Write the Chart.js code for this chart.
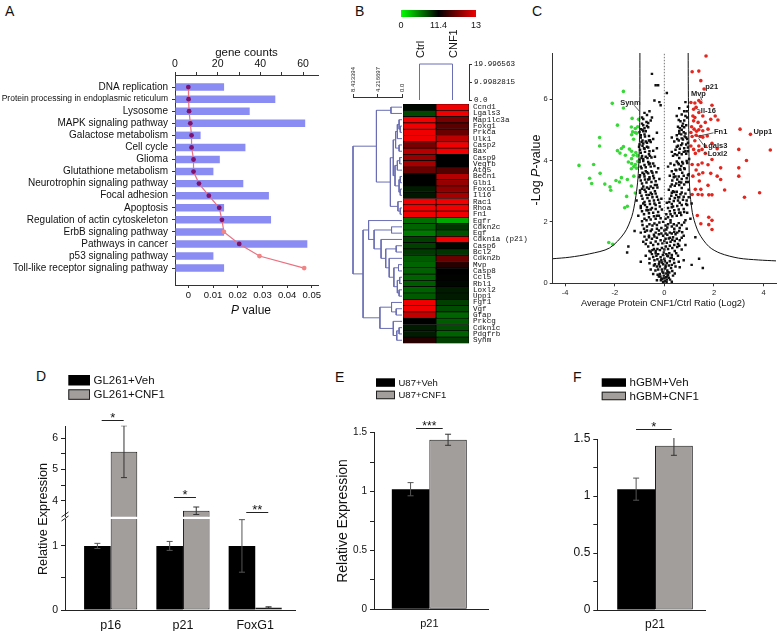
<!DOCTYPE html>
<html><head><meta charset="utf-8">
<script src="https://cdn.jsdelivr.net/npm/chart.js@4.4.1/dist/chart.umd.min.js"></script>
<style>
html,body{margin:0;padding:0;background:#fff;}
#root{position:relative;width:780px;height:631px;overflow:hidden;background:#fff;font-family:"Liberation Sans",Arial,sans-serif;}
.pl{position:absolute;font-size:14px;line-height:14px;color:#111;}
</style></head><body><div id="root">
<div class="pl" style="left:5px;top:4px">A</div>
<div class="pl" style="left:355px;top:4px">B</div>
<div class="pl" style="left:532px;top:4px">C</div>
<div class="pl" style="left:36px;top:369px">D</div>
<div class="pl" style="left:335px;top:370px">E</div>
<div class="pl" style="left:573px;top:370px">F</div>
</div>
<script>
// ---------------- DATA ----------------
// Panel A
const pathways = ['DNA replication','Protein processing in endoplasmic reticulum','Lysosome','MAPK signaling pathway','Galactose metabolism','Cell cycle','Glioma','Glutathione metabolism','Neurotrophin signaling pathway','Focal adhesion','Apoptosis','Regulation of actin cytoskeleton','ErbB signaling pathway','Pathways in cancer','p53 signaling pathway','Toll-like receptor signaling pathway'];
const geneCounts = [23,47,35,61,12,33,21,18,32,44,23,45,23,62,18,23];
const pValues = [0.0000,0.0001,0.0003,0.0008,0.0013,0.0013,0.0021,0.0021,0.0043,0.0083,0.0125,0.0136,0.0144,0.0206,0.0288,0.0469];
const countTicks = [0,10,20,30,40,50,60];
const countLabels = ['0','','20','','40','','60'];
const pTicks = [0,0.01,0.02,0.03,0.04,0.05];

// Panel B
const hmGenes = ['Ccnd1','Lgals3','Map1lc3a','Foxg1','Prkca','Ulk1','Casp2','Bax','Casp9','Vegfb','Atg5','Becn1','Glb1','Foxo1','Il16','Rac1','Rhoa','Fn1','Egfr','Cdkn2c','Egf','Cdkn1a (p21)','Casp6','Bcl2','Cdkn2b','Mvp','Casp8','Ccl5','Rbl1','Loxl2','Upp1','Fgf1','Vgf','Gfap','Prkcg','Cdkn1c','Pdgfrb','Synm'];
const ctrlExpr = [11.3,9.1,13,13,13,13,12.2,12.6,12.4,12.5,12.1,11.4,11.4,10.7,10.8,13,13,13,7.4,7.8,6.9,9.4,9.4,9.6,8.3,7.8,8.0,8.0,8.3,8.0,8.3,13,13,12.7,11.4,10.7,10.7,11.65];
const cnf1Expr = [13,13,12.2,12.0,12.1,12.65,13,13,11.4,11.4,11.95,12.6,12.4,12.35,12.5,13,13,13,4.7,9.8,8.7,13,11.3,9.8,12.1,11.65,11.4,11.35,11.3,10.7,10.7,9.4,8.9,7.8,8.3,8.9,8.0,9.4];
const sampleNames = ['Ctrl','CNF1'];
const colorScaleVals = [0, 11.4, 13];
const colJoinHeight = 19.996563;
const colScaleTicks = [0, 9.9982815, 19.996563];
const colScaleLabels = ['0.0','9.9982815','19.996563'];
const rowScaleTicks = [0, 4.216697, 8.433394];
const rowScaleLabels = ['0.0','4.216697','8.433394'];
// row dendrogram: [height, left, right]; leaves = row index
const rowTree = [8.433394,
  [4.4, [1.9,0,1], [2.0, [1.5, [1.1,[0.8,[0.5,2,[0.3,3,4]],5],[0.5,6,7]], [1.2,[0.8,[0.4,8,9],10],[0.5,[0.3,11,12],[0.3,13,14]]]], [0.7,15,[0.3,16,17]]]],
  [6.7, [5.75,18,[4.8,[1.8,19,20],[3.6,21,[2.8,[1.0,22,23],[2.2,24,[1.4,[0.6,25,26],[0.8,[0.4,27,28],[0.5,29,30]]]]]]]],
        [3.8,[1.8,31,[1.0,32,33]],[1.5,34,[0.9,[0.5,35,36],37]]]]
];

// Panel C (volcano)
const volcanoBlack = [
[-0.05,0.05],[0.03,0.08],[0.1,0.12],[-0.12,0.15],[0.06,0.2],[-0.02,0.25],[0.15,0.28],[-0.18,0.3],[0.2,0.35],[-0.08,0.38],[0.12,0.42],[-0.25,0.45],[0.02,0.48],[0.27,0.5],[-0.14,0.1],[0.18,0.18],[-0.22,0.22],[0.08,0.32],[-0.1,0.45],[-0.45,0.3],[0.35,0.25],[-0.3,0.1],[0.3,0.05],
[-0.3,0.55],[0.3,0.6],[-0.05,0.62],[0.1,0.66],[-0.2,0.7],[0.22,0.72],[-0.4,0.75],[0.38,0.78],[0.0,0.8],[-0.15,0.85],[0.15,0.88],[-0.32,0.9],[0.3,0.92],[-0.5,0.95],[0.48,0.98],[0.05,0.58],[-0.12,0.75],[0.25,0.82],[-0.25,0.95],[0.08,0.95],[-0.38,0.62],[0.45,0.55],[-0.6,0.65],[0.58,0.7],
[-0.75,0.9],[0.78,0.75],[-1.45,1.2],[-1.5,1.0],[1.55,0.5],[1.4,0.8],[-0.95,0.7],[1.1,0.6],
[-0.55,1.02],[-0.35,1.05],[-0.18,1.08],[0.0,1.1],[0.15,1.12],[0.32,1.15],[0.52,1.18],[-0.65,1.2],[-0.45,1.25],[-0.25,1.28],[-0.08,1.3],[0.1,1.32],[0.25,1.35],[0.42,1.38],[0.62,1.4],[-0.72,1.42],[-0.5,1.45],[-0.3,1.48],[0.18,1.46],[0.35,1.5],[0.55,1.28],[-0.6,1.05],[0.7,1.1],[-0.85,1.35],[0.85,1.25],[-0.02,1.0],[-0.42,1.12],[0.42,1.05],[-0.15,1.4],[0.05,1.45],
[-0.8,1.52],[-0.62,1.55],[-0.42,1.58],[-0.22,1.6],[0.05,1.62],[0.22,1.65],[0.4,1.68],[0.6,1.7],[0.78,1.55],[-0.7,1.72],[-0.5,1.75],[-0.3,1.78],[-0.12,1.8],[0.12,1.82],[0.3,1.85],[0.5,1.88],[0.7,1.9],[-0.88,1.9],[-0.6,1.92],[-0.4,1.95],[-0.2,1.98],[0.25,1.98],[0.45,1.6],[-0.95,1.65],[0.9,1.78],[-1.2,1.7],[1.25,1.5],[-0.35,1.65],[0.0,1.72],[0.15,1.92],
[-0.9,2.02],[-0.72,2.05],[-0.55,2.08],[-0.35,2.1],[-0.15,2.12],[0.15,2.15],[0.32,2.18],[0.5,2.2],[0.68,2.22],[0.85,2.05],[-0.82,2.25],[-0.62,2.28],[-0.45,2.3],[-0.25,2.32],[0.22,2.35],[0.4,2.38],[0.58,2.4],[0.78,2.42],[-0.95,2.45],[-0.7,2.48],[-0.5,2.45],[0.3,2.48],[0.92,2.3],[-0.1,2.4],[0.08,2.25],[-1.05,2.2],[1.05,2.1],[-0.05,2.0],[-0.3,2.2],[0.25,2.05],[-0.65,2.38],[0.65,2.3],
[-0.95,2.52],[-0.78,2.55],[-0.58,2.58],[-0.4,2.6],[-0.2,2.62],[0.2,2.65],[0.38,2.68],[0.55,2.7],[0.75,2.72],[0.92,2.55],[-0.88,2.75],[-0.68,2.78],[-0.48,2.8],[-0.3,2.82],[0.28,2.85],[0.48,2.88],[0.65,2.9],[0.85,2.92],[-0.98,2.95],[-0.75,2.98],[-0.55,2.95],[0.4,2.97],[0.98,2.8],[-1.12,2.7],[1.1,2.6],[-0.12,2.75],[-0.35,2.55],[0.3,2.58],[-0.85,2.6],[0.62,2.62],[-0.62,2.88],[0.55,2.8],
[-0.98,3.02],[-0.8,3.05],[-0.62,3.08],[-0.45,3.1],[-0.28,3.12],[0.25,3.15],[0.42,3.18],[0.6,3.2],[0.8,3.22],[0.98,3.05],[-0.9,3.25],[-0.72,3.28],[-0.52,3.3],[-0.35,3.32],[0.32,3.35],[0.52,3.38],[0.7,3.4],[0.9,3.42],[-1.0,3.45],[-0.8,3.48],[-0.6,3.45],[0.45,3.48],[0.95,3.3],[-0.2,3.4],[0.18,3.05],[-0.38,3.0],[0.35,3.0],[-0.85,3.15],[0.7,3.1],[-0.65,3.38],[0.6,3.3],
[-0.98,3.52],[-0.82,3.55],[-0.65,3.58],[-0.48,3.6],[-0.32,3.62],[0.3,3.65],[0.48,3.68],[0.65,3.7],[0.82,3.72],[0.98,3.55],[-0.92,3.75],[-0.75,3.78],[-0.55,3.8],[-0.4,3.82],[0.4,3.85],[0.58,3.88],[0.75,3.9],[0.92,3.92],[-1.0,3.95],[-0.85,3.98],[-0.65,3.95],[0.5,3.97],[0.25,3.9],[-0.25,3.75],[-0.45,3.5],[0.38,3.55],[-0.75,3.65],[0.72,3.6],[-0.58,3.9],[0.68,3.82],
[-1.0,4.02],[-0.85,4.05],[-0.68,4.08],[-0.52,4.1],[-0.38,4.12],[0.35,4.15],[0.52,4.18],[0.7,4.2],[0.88,4.22],[1.0,4.05],[-0.95,4.25],[-0.78,4.28],[-0.6,4.3],[-0.45,4.32],[0.45,4.35],[0.62,4.38],[0.8,4.4],[0.95,4.42],[-1.02,4.45],[-0.88,4.48],[-0.7,4.45],[0.55,4.48],[0.3,4.28],[-0.3,4.4],[-0.9,4.15],[0.6,4.08],[-0.62,4.2],[0.85,4.3],[-0.8,4.38],
[-1.0,4.52],[-0.85,4.55],[-0.7,4.58],[-0.55,4.6],[0.4,4.62],[0.58,4.65],[0.75,4.68],[0.92,4.7],[-0.95,4.75],[-0.78,4.78],[-0.62,4.8],[0.5,4.82],[0.68,4.85],[0.85,4.88],[-1.0,4.92],[-0.85,4.95],[0.6,4.95],[0.95,4.58],[-0.45,4.7],[0.3,4.75],[-0.3,4.9],[0.72,4.55],[-0.62,4.65],[0.82,4.78],[-0.88,4.65],[0.7,5.0],[-0.75,4.95],
[-0.95,5.02],[-0.8,5.05],[-0.65,5.08],[0.55,5.1],[0.72,5.12],[0.88,5.15],[-0.9,5.2],[-0.72,5.25],[0.65,5.28],[0.8,5.3],[-0.85,5.35],[-0.55,5.3],[0.92,5.4],[0.5,5.45],[-0.7,5.48],
[-0.5,6.82],[-0.35,6.45],[-0.25,6.45],[0.1,6.2],[-0.4,5.95],[-0.2,5.9],[-0.15,5.8],[0.85,5.9],[0.95,5.75],[-0.6,5.6],[0.8,5.6],[0.6,5.7],
[-0.08,0.15],[0.0,0.18],[0.09,0.04],[-0.16,0.22],[0.14,0.36],[-0.04,0.34],[0.23,0.12],[-0.27,0.28],[0.32,0.4],[-0.36,0.42],[0.05,0.52],[-0.18,0.55],[0.18,0.58],[-0.42,0.58],[0.4,0.66],[-0.1,0.68],[0.02,0.72],[-0.28,0.78],[0.3,0.84],[-0.45,0.86],[0.12,0.9],[-0.06,0.92],[0.55,0.9],[-0.6,0.8],[0.2,0.98],[-0.35,0.98],[0.62,0.52],[-0.55,0.45],[0.42,0.32],[-0.02,0.02],[0.12,0.22],[-0.22,0.62],
[-0.48,1.08],[-0.28,1.12],[-0.1,1.15],[0.06,1.2],[0.22,1.22],[0.4,1.25],[0.6,1.22],[-0.75,1.28],[-0.55,1.32],[-0.35,1.36],[0.0,1.38],[0.32,1.42],[0.5,1.45],[0.7,1.48],[-0.62,1.5],[-0.4,1.52],[-0.05,1.55],[0.12,1.58],[0.3,1.62],[0.52,1.65],[0.72,1.66],[-0.78,1.68],[-0.55,1.7],[-0.22,1.72],[0.08,1.75],[0.4,1.78],[0.62,1.8],[-0.7,1.85],[-0.48,1.88],[-0.3,1.9],[0.05,1.88],[0.38,1.92],[0.58,1.96],[0.8,1.98],[-0.82,1.78],[-0.12,1.62],[0.22,1.48],
[-0.8,2.1],[-0.62,2.15],[-0.42,2.18],[-0.22,2.2],[0.05,2.1],[0.25,2.25],[0.42,2.28],[0.6,2.3],[0.8,2.32],[-0.9,2.35],[-0.72,2.38],[-0.55,2.4],[-0.35,2.42],[0.15,2.45],[0.35,2.5],[0.52,2.52],[0.7,2.55],[0.88,2.58],[-0.8,2.65],[-0.6,2.68],[-0.42,2.7],[-0.25,2.72],[0.22,2.75],[0.42,2.78],[0.6,2.8],[0.78,2.82],[-0.92,2.85],[-0.72,2.88],[-0.5,2.9],[-0.35,2.92],[0.3,2.95],[0.5,2.98],[0.7,2.96],[0.9,2.7],[-0.18,2.5],[0.1,2.62],
[-0.9,3.08],[-0.7,3.12],[-0.55,3.15],[-0.38,3.2],[0.3,3.22],[0.48,3.25],[0.68,3.28],[0.88,3.3],[-0.95,3.35],[-0.78,3.38],[-0.6,3.4],[-0.42,3.42],[0.38,3.45],[0.58,3.48],[0.78,3.5],[0.95,3.52],[-0.88,3.6],[-0.7,3.62],[-0.52,3.65],[0.45,3.7],[0.62,3.72],[0.8,3.75],[-0.95,3.8],[-0.8,3.85],[-0.62,3.88],[-0.45,3.9],[0.55,3.92],[0.72,3.95],[0.9,3.98],[-0.3,3.2],[0.22,3.5],[0.15,3.8],
[-0.92,4.08],[-0.75,4.12],[-0.58,4.15],[0.42,4.2],[0.6,4.25],[0.78,4.28],[0.95,4.3],[-0.98,4.35],[-0.82,4.4],[-0.65,4.42],[0.5,4.45],[0.68,4.5],[0.88,4.52],[-0.92,4.6],[-0.75,4.62],[-0.58,4.66],[0.52,4.7],[0.7,4.72],[0.88,4.75],[-0.95,4.82],[-0.8,4.85],[0.6,4.88],[0.78,4.92],[-0.88,5.0],[-0.7,5.12],[0.62,5.05],[0.8,5.08],[-0.85,5.15],[0.75,5.2],[-0.65,5.22],[0.58,5.32],[-0.9,5.4],[0.85,5.45],[-0.8,5.55],[0.7,5.5],[0.9,5.6],[-0.5,5.4]
];
const volcanoDown = [
[-1.65,6.25],[-2.1,5.86],[-1.65,5.71],[-1.3,5.37],[-1.04,5.34],[-1.89,5.15],[-1.33,5.09],[-1.17,5.04],[-1.07,5.1],[-2.61,4.75],[-1.28,4.93],[-1.17,4.91],[-1.12,4.89],[-1.32,4.84],[-1.24,4.69],[-2.61,4.47],[-1.65,4.45],[-1.73,4.39],[-1.89,4.32],[-1.41,4.37],[-1.32,4.3],[-1.15,4.26],[-1.79,4.24],[-1.57,4.17],[-1.25,4.17],[-1.09,4.17],[-1.32,4.06],[-1.07,3.97],[-1.32,3.9],[-1.17,3.87],[-1.23,3.8],[-1.12,3.75],[-1.33,3.73],[-2.85,3.87],[-3.44,3.84],[-2.59,3.58],[-1.73,3.44],[-1.95,3.35],[-1.49,3.38],[-1.23,3.49],[-3.01,3.42],[-2.93,3.25],[-2.4,3.23],[-2.19,3.14],[-2.16,3.03],[-1.81,3.3],[-1.33,3.17],[-1.17,2.94],[-1.52,2.83],[-1.49,2.51],[-1.6,2.46],[-2.24,1.33],[-2.08,1.27],[-1.09,4.15],[-1.45,3.95]
];
const volcanoUp = [
[1.68,7.4],[1.12,6.89],[1.39,6.91],[1.47,6.6],[1.6,6.33],[1.39,5.95],[1.07,5.89],[1.23,5.87],[1.47,5.89],[1.28,5.73],[1.92,5.8],[1.18,5.67],[1.39,5.56],[1.23,5.4],[1.55,5.45],[2.05,5.45],[2.16,5.32],[1.87,5.34],[1.18,5.29],[1.36,5.24],[1.65,5.24],[1.47,5.11],[1.2,5.02],[1.39,5.0],[1.55,4.97],[1.76,5.02],[1.07,4.91],[1.12,4.78],[1.28,4.82],[1.44,4.78],[1.55,4.76],[1.23,4.64],[1.07,4.47],[1.39,4.47],[1.65,4.47],[1.92,4.56],[2.13,4.38],[1.18,4.36],[1.39,4.32],[1.52,4.36],[1.65,4.23],[1.25,4.23],[3.05,5.02],[3.47,4.85],[4.27,4.34],[3.0,4.36],[3.31,4.0],[1.92,4.03],[1.52,3.92],[1.12,3.87],[1.36,3.86],[1.76,3.86],[2.27,3.76],[1.28,3.69],[1.55,3.6],[3.0,3.76],[3.0,3.49],[1.39,3.55],[1.15,3.49],[1.87,3.58],[2.13,3.49],[1.41,3.33],[1.76,3.19],[2.27,3.38],[1.25,3.06],[1.47,3.06],[2.43,3.04],[3.84,2.95],[1.12,2.89],[1.36,2.89],[1.52,2.88],[1.79,2.88],[1.92,2.88],[3.23,2.8],[1.33,2.21],[1.79,2.15],[1.47,1.94],[1.92,2.05],[1.79,1.91],[1.15,5.45],[1.73,4.8],[1.92,1.75],[1.1,5.1],[1.3,4.95]
];
const threshLeftX = [-0.985,-0.985,-0.99,-1.0,-1.03,-1.08,-1.17,-1.31,-1.61,-2.21,-3.01,-3.81,-4.5];
const threshLeftY = [7.5,6.5,5.67,4.8,3.9,3.27,2.72,2.18,1.64,1.15,0.96,0.85,0.8];
const threshRightX = [0.96,0.965,0.975,0.99,1.01,1.06,1.16,1.39,1.79,2.25,2.99,3.79,4.5];
const threshRightY = [7.5,6.5,5.6,4.4,3.27,2.73,2.18,1.64,1.2,0.98,0.82,0.76,0.73];
const volcanoXTicks = [-4,-2,0,2,4];
const volcanoYTicks = [0,2,4,6];
const tagNames = ['Synm','Mvp','p21','Il-16','Fn1','Upp1','Lgals3','Loxl2'];
const tagX = [-1.78,1.07,1.65,1.47,2.0,3.59,1.58,1.75];
const tagY = [5.89,6.16,6.38,5.62,4.93,4.93,4.47,4.2];
const leadX1 = [-1.22,1.45,null,1.3,1.98,null,1.58,1.6];
const leadY1 = [5.8,6.08,null,5.68,4.9,null,4.5,4.27];
const leadX2 = [-1.0,1.52,null,1.45,1.3,null,1.38,1.73];
const leadY2 = [5.6,5.95,null,5.63,4.78,null,4.72,4.21];

// Panel D
const dGenes = ['p16','p21','FoxG1'];
const dSeries = ['GL261+Veh','GL261+CNF1'];
const dVeh = [1.0,1.0,1.0];
const dVehErr = [0.04,0.07,0.41];
const dCnf = [5.57,3.68,0.04];
const dCnfErr = [0.83,0.12,0.01];
const dSig = ['*','*','**'];
const dSigLevel = [6.59,4.13,3.63];
const dTicksUpper = [4,4.5,5,5.5,6];
const dLabelsUpper = ['4','','5','','6'];
const dTicksLower = [0,0.5,1];
const dLabelsLower = ['0','','1'];
// Panel E
const eGenes = ['p21'];
const eSeries = ['U87+Veh','U87+CNF1'];
const eVeh = [1.02]; const eVehErr = [0.056];
const eCnf = [1.44]; const eCnfErr = [0.047];
const eSig = ['***']; const eSigLevel = [1.538];
// Panel F
const fGenes = ['p21'];
const fSeries = ['hGBM+Veh','hGBM+CNF1'];
const fVeh = [1.06]; const fVehErr = [0.097];
const fCnf = [1.44]; const fCnfErr = [0.083];
const fSig = ['*']; const fSigLevel = [1.588];
const efTicks = [0,0.25,0.5,0.75,1,1.25,1.5];
const efLabels = ['0','','0.5','','1','','1.5'];

// ---------------- HELPERS ----------------
const FONT = '"Liberation Sans", Arial, sans-serif';
const MONO = '"Liberation Mono", "DejaVu Sans Mono", monospace';
Chart.defaults.font.family = FONT;
Chart.defaults.color = '#111';
const root = document.getElementById('root');
function mk(l,t,w,h){ const c=document.createElement('canvas'); c.width=w; c.height=h; c.style.cssText=`position:absolute;left:${l}px;top:${t}px;width:${w}px;height:${h}px;`; root.appendChild(c); return c; }
const setW = w => s => { s.width = w; };
const setH = h => s => { s.height = h; };
const setTicks = arr => s => { s.ticks = arr.map(v => ({value:v})); };
function base(pad){ return {responsive:false, maintainAspectRatio:false, animation:false, devicePixelRatio:1, events:[], layout:{padding:pad}, plugins:{legend:{display:false}, tooltip:{enabled:false}}}; }
function drawParts(c, parts, cx, cy, size, rot, weight){
  c.save(); c.translate(cx,cy); c.rotate(rot||0); c.fillStyle='#111'; c.textBaseline='middle'; c.textAlign='left';
  const fonts = parts.map(p => `${p.i?'italic ':''}${weight||''} ${size}px ${FONT}`);
  let total=0; parts.forEach((p,k)=>{ c.font=fonts[k]; total+=c.measureText(p.t).width; });
  let x=-total/2; parts.forEach((p,k)=>{ c.font=fonts[k]; c.fillText(p.t,x,0); x+=c.measureText(p.t).width; });
  c.restore();
}
let pid=0;
function textPlugin(items){ return {id:'txt'+(pid++), afterDraw(ch){ items.forEach(it => drawParts(ch.ctx, it.parts, it.x, it.y, it.size, it.rot)); }}; }
function exprColor(v){
  const lo=colorScaleVals[0], mid=colorScaleVals[1], hi=colorScaleVals[2];
  if (v <= mid){ const t=Math.max(0,Math.min(1,(mid-v)/(mid-lo))); return `rgb(0,${Math.round(255*Math.pow(t,0.8))},0)`; }
  const t=Math.min(1,(v-mid)/(hi-mid)); return `rgb(${Math.round(240*t)},0,0)`;
}
const axisGrid = {drawOnChartArea:false, tickLength:3, color:'#333', tickColor:'#333'};
const axisBorder = {display:true, color:'#333', width:1};

// ---------------- PANEL A ----------------
const pDotColors = pValues.map((_,i)=> [12,14,15].includes(i) ? '#f08585' : '#7d1370');
new Chart(mk(0,0,330,330), {
  type:'bar',
  data:{datasets:[
    {type:'line', data:pValues.map((p,i)=>({x:p,y:i})), xAxisID:'xBot', yAxisID:'y', borderColor:'#ec7080', borderWidth:1.2, pointRadius:2.4, pointBackgroundColor:pDotColors, pointBorderWidth:0, tension:0, order:0},
    {type:'bar', data:geneCounts.map((c,i)=>({x:c,y:i})), xAxisID:'xTop', yAxisID:'y', backgroundColor:'#8b8cf3', barPercentage:0.62, categoryPercentage:1, order:1}
  ]},
  options:Object.assign(base({left:0,top:0,right:12,bottom:0}), {indexAxis:'y', scales:{
    y:{type:'linear', axis:'y', position:'left', reverse:true, offset:false, min:-1, max:16.4, afterFit:setW(175), afterBuildTicks:setTicks(pathways.map((_,i)=>i)),
       ticks:{callback:v=>pathways[v], font:ctx=>({size:(pathways[ctx.index]||'').length>40?8.5:10}), padding:4, autoSkip:false, color:'#111'},
       grid:Object.assign({offset:false}, axisGrid), border:axisBorder},
    xTop:{type:'linear', axis:'x', position:'top', min:0, max:67, afterFit:setH(75), afterBuildTicks:setTicks(countTicks),
       ticks:{callback:(v,i)=>countLabels[i], font:{size:10.5}, padding:2, color:'#111', autoSkip:false, maxRotation:0}, grid:axisGrid, border:axisBorder,
       title:{display:true, text:'gene counts', font:{size:11.5}, color:'#111', padding:{top:45.5,bottom:0}}},
    xBot:{type:'linear', axis:'x', position:'bottom', min:-0.0054, max:0.0525, afterFit:setH(45), afterBuildTicks:setTicks(pTicks),
       ticks:{callback:v=>v===0?'0':v.toFixed(2), font:{size:9.5}, padding:2, color:'#111'}, grid:axisGrid, border:axisBorder}
  }}),
  plugins:[textPlugin([{parts:[{t:'P',i:1},{t:' value'}], x:251, y:311, size:12}])]
});

// ---------------- PANEL B ----------------
// heatmap
new Chart(mk(330,0,200,360), {
  type:'bar',
  data:{labels:hmGenes, datasets:[
    {label:sampleNames[0], data:hmGenes.map(()=>1), backgroundColor:ctrlExpr.map(exprColor)},
    {label:sampleNames[1], data:hmGenes.map(()=>1), backgroundColor:cnf1Expr.map(exprColor)}
  ]},
  options:Object.assign(base({left:73,top:104,right:0,bottom:16.6}), {indexAxis:'y',
    datasets:{bar:{barPercentage:1, categoryPercentage:1, borderColor:'#000', borderWidth:0.7, borderSkipped:false}},
    scales:{
      x:{type:'linear', stacked:true, display:false, min:0, max:2},
      y:{type:'category', stacked:true, position:'right', afterFit:setW(61), ticks:{font:{family:MONO,size:7.6}, padding:4, autoSkip:false, color:'#111'}, grid:{display:false, drawTicks:false}, border:{display:false}}
    }})
});
// row dendrogram
function dendroSegs(node, out){
  if (typeof node === 'number') return {h:0, y:node};
  const A = dendroSegs(node[1], out), B = dendroSegs(node[2], out), h = node[0];
  out.push({x:A.h,y:A.y},{x:h,y:A.y},{x:h,y:B.y},{x:B.h,y:B.y},{x:NaN,y:NaN});
  return {h, y:(A.y+B.y)/2};
}
const rowSegs = []; dendroSegs(rowTree, rowSegs);
new Chart(mk(330,0,200,360), {
  type:'line',
  data:{datasets:[{data:rowSegs, borderColor:'#6a6eb4', borderWidth:1, pointRadius:0, tension:0, spanGaps:false, clip:4}]},
  options:Object.assign(base({left:23,top:0,right:128,bottom:16.6}), {scales:{
    x:{type:'linear', position:'top', reverse:true, min:0, max:rowScaleTicks[2], afterFit:setH(97), afterBuildTicks:setTicks(rowScaleTicks),
       ticks:{callback:(v,i)=>rowScaleLabels[i], font:{size:6}, minRotation:90, maxRotation:90, padding:2, labelOffset:8, autoSkip:false, color:'#222'},
       grid:axisGrid, border:axisBorder},
    y:{type:'linear', display:false, reverse:true, min:-1.611, max:37.5}
  }})
});
// column dendrogram
new Chart(mk(330,0,200,360), {
  type:'line',
  data:{datasets:[{data:[{x:0,y:0},{x:0,y:colJoinHeight},{x:1,y:colJoinHeight},{x:1,y:0}], borderColor:'#6a6eb4', borderWidth:1, pointRadius:0, tension:0, clip:4}]},
  options:Object.assign(base({left:73,top:0,right:0,bottom:260}), {scales:{
    x:{type:'linear', position:'top', min:-0.5, max:1.5, afterFit:setH(64), afterBuildTicks:setTicks(sampleNames.map((_,i)=>i)),
       ticks:{callback:(v,i)=>sampleNames[i], minRotation:90, maxRotation:90, font:{size:11}, padding:6, labelOffset:15, autoSkip:false, color:'#111'},
       grid:{display:false, drawTicks:false}, border:{display:false}},
    y:{type:'linear', position:'right', min:0, max:colJoinHeight, afterFit:setW(61), afterBuildTicks:setTicks(colScaleTicks),
       ticks:{callback:(v,i)=>colScaleLabels[i], font:{family:MONO,size:7.6}, padding:2, color:'#111'}, grid:axisGrid, border:axisBorder}
  }})
});
// colour bar
new Chart(mk(330,0,200,40), {
  type:'bar',
  data:{labels:['scale'], datasets:[{data:[[0,2]], barPercentage:1, categoryPercentage:1,
    backgroundColor:ctx=>{ const a=ctx.chart.chartArea; if(!a) return '#000'; const g=ctx.chart.ctx.createLinearGradient(a.left,0,a.right,0);
      g.addColorStop(0,exprColor(colorScaleVals[0])); g.addColorStop(0.5,exprColor(colorScaleVals[1])); g.addColorStop(1,exprColor(colorScaleVals[2])); return g; }}]},
  options:Object.assign(base({left:71,top:10,right:54,bottom:0}), {indexAxis:'y', scales:{
    y:{display:false},
    x:{type:'linear', min:0, max:2, afterFit:setH(23), afterBuildTicks:setTicks(colorScaleVals.map((_,i)=>i)),
       ticks:{callback:(v,i)=>String(colorScaleVals[i]), font:{size:9}, padding:3, color:'#111'}, grid:{display:false, drawTicks:false}, border:{display:false}}
  }})
});

// ---------------- PANEL C ----------------
const tagPlugin = {id:'tags', afterDatasetsDraw(ch){
  const c=ch.ctx, xs=ch.scales.x, ys=ch.scales.y;
  c.save(); c.strokeStyle='#333'; c.lineWidth=0.8; c.fillStyle='#222'; c.font=`bold 7.5px ${FONT}`; c.textBaseline='middle'; c.textAlign='left';
  tagNames.forEach((t,i)=>{
    if (leadX1[i]!==null){ c.beginPath(); c.moveTo(xs.getPixelForValue(leadX1[i]), ys.getPixelForValue(leadY1[i])); c.lineTo(xs.getPixelForValue(leadX2[i]), ys.getPixelForValue(leadY2[i])); c.stroke(); }
    c.fillText(t, xs.getPixelForValue(tagX[i]), ys.getPixelForValue(tagY[i]));
  });
  c.restore();
}};
new Chart(mk(520,0,260,330), {
  type:'scatter',
  data:{datasets:[
    {data:volcanoBlack.map(p=>({x:p[0],y:p[1]})), pointStyle:'rect', pointRadius:1.75, backgroundColor:'#111', borderWidth:0, order:5},
    {data:volcanoDown.map(p=>({x:p[0],y:p[1]})), pointRadius:1.8, backgroundColor:'#38d838', borderWidth:0, order:4},
    {data:volcanoUp.map(p=>({x:p[0],y:p[1]})), pointRadius:1.8, backgroundColor:'#e3261e', borderWidth:0, order:3},
    {data:threshLeftX.map((x,i)=>({x,y:threshLeftY[i]})), showLine:true, pointRadius:0, borderColor:'#111', borderWidth:1, tension:0.3, order:2},
    {data:threshRightX.map((x,i)=>({x,y:threshRightY[i]})), showLine:true, pointRadius:0, borderColor:'#111', borderWidth:1, tension:0.3, order:2},
    {data:[{x:0,y:0},{x:0,y:7.5}], showLine:true, pointRadius:0, borderColor:'#555', borderWidth:0.8, borderDash:[1.5,1.5], order:1}
  ]},
  options:Object.assign(base({left:0,top:53,right:2,bottom:0}), {scales:{
    x:{type:'linear', min:-4.5, max:4.5, afterFit:setH(46.7), afterBuildTicks:setTicks(volcanoXTicks), ticks:{font:{size:7.5}, padding:2, color:'#222'}, grid:axisGrid, border:axisBorder},
    y:{type:'linear', min:0, max:7.5, afterFit:setW(32.7), afterBuildTicks:setTicks(volcanoYTicks), ticks:{font:{size:7.5}, padding:2, color:'#222'}, grid:axisGrid, border:axisBorder}
  }}),
  plugins:[tagPlugin, textPlugin([
    {parts:[{t:'-Log '},{t:'P',i:1},{t:'-value'}], x:17, y:170, size:12.5, rot:-Math.PI/2},
    {parts:[{t:'Average Protein CNF1/Ctrl Ratio (Log2)'}], x:143, y:303, size:9.3}
  ])]
});

// ---------------- PANELS D, E, F ----------------
const errPlugin = {id:'errbars', afterDatasetsDraw(ch){
  const c=ch.ctx, a=ch.chartArea;
  c.save(); c.beginPath(); c.rect(a.left, a.top-1, a.right-a.left, a.bottom-a.top+1); c.clip();
  ch.data.datasets.forEach((ds,di)=>{
    if (!ds.errors) return;
    const meta=ch.getDatasetMeta(di), ys=ch.scales.y;
    meta.data.forEach((el,i)=>{
      const v=ds.data[i].y, e=ds.errors[i], x=el.x, y1=ys.getPixelForValue(v+e), y2=ys.getPixelForValue(v-e);
      c.strokeStyle=ds.errColor; c.lineWidth=1; c.beginPath();
      c.moveTo(x,y1); c.lineTo(x,y2); c.moveTo(x-3,y1); c.lineTo(x+3,y1); c.moveTo(x-3,y2); c.lineTo(x+3,y2); c.stroke();
    });
  });
  c.restore();
}};
function sigPlugin(labels, levels, dx1, dx2, size){ return {id:'sig'+(pid++), afterDraw(ch){
  const c=ch.ctx, xs=ch.scales.x, ys=ch.scales.y;
  c.save(); c.strokeStyle='#222'; c.lineWidth=1; c.fillStyle='#111'; c.font=`${size}px ${FONT}`; c.textAlign='center'; c.textBaseline='alphabetic';
  labels.forEach((t,i)=>{ const cx=xs.getPixelForValue(i), y=Math.round(ys.getPixelForValue(levels[i]))+0.5;
    c.beginPath(); c.moveTo(cx+dx1,y); c.lineTo(cx+dx2,y); c.stroke();
    c.fillText(t, cx+(dx1+dx2)/2, y+size*0.12); });
  c.restore();
}}; }
function legendPlugin(x, y1, y2, w, h, size){ return {id:'lg'+(pid++), afterDraw(ch){
  const c=ch.ctx; c.save(); c.font=`${size}px ${FONT}`; c.textBaseline='middle'; c.textAlign='left';
  [y1,y2].forEach((y,k)=>{ const ds=ch.data.datasets[k];
    c.fillStyle=ds.backgroundColor; c.fillRect(x,y,w,h);
    if (k===1){ c.strokeStyle='#222'; c.lineWidth=1; c.strokeRect(x+0.5,y+0.5,w-1,h-1); }
    c.fillStyle='#111'; c.fillText(ds.label, x+w+3.5, y+h/2+0.5); });
  c.restore();
}}; }
const breakPlugin = {id:'brk', afterDraw(ch){
  const c=ch.ctx, x=ch.chartArea.left, y=ch.chartArea.top;
  c.save(); c.strokeStyle='#222'; c.lineWidth=1;
  [-1,-5].forEach(d=>{ c.beginPath(); c.moveTo(x-3.5,y+d+3); c.lineTo(x+3.5,y+d-2); c.stroke(); });
  c.restore();
}};
function barPanel(cv, o){
  return new Chart(cv, {type:'bar',
    data:{datasets:[
      {label:o.names[0], data:o.veh.map((v,i)=>({x:i,y:v})), errors:o.vehErr, errColor:'#555', backgroundColor:'#000', borderWidth:0},
      {label:o.names[1], data:o.cnf.map((v,i)=>({x:i,y:v})), errors:o.cnfErr, errColor:'#333', backgroundColor:'#a29e9c', borderColor:'#1a1a1a', borderWidth:1}
    ]},
    options:Object.assign(base(o.pad), {
      datasets:{bar:{categoryPercentage:o.catPct, barPercentage:1, borderSkipped:false}},
      scales:{
        x:{type:'linear', display:o.showX, offset:false, min:o.xmin, max:o.xmax, afterFit:o.showX?setH(o.xh):undefined, afterBuildTicks:setTicks(o.cats.map((_,i)=>i)),
           ticks:{callback:(v,i)=>o.cats[i], font:{size:o.xfs}, padding:o.xpad, color:'#111', autoSkip:false}, grid:{display:false, drawTicks:false, offset:false}, border:{display:true, color:'#222'}},
        y:{type:'linear', min:o.ymin, max:o.ymax, afterFit:setW(o.yw), afterBuildTicks:setTicks(o.yt),
           ticks:{callback:(v,i)=>o.yl[i], font:{size:o.yfs}, padding:3, color:'#111'}, grid:{drawOnChartArea:false, tickLength:4, color:'#222', tickColor:'#222'}, border:{display:true, color:'#222'}}
      }}),
    plugins:[errPlugin].concat(o.plugins||[])
  });
}
// D lower
barPanel(mk(0,360,310,271), {names:dSeries, veh:dVeh, vehErr:dVehErr, cnf:dCnf, cnfErr:dCnfErr, cats:dGenes,
  pad:{left:0,top:159,right:15,bottom:0}, catPct:0.736, xmin:-0.632, xmax:2.55, showX:true, xh:21, xfs:12.5, xpad:8,
  ymin:0, ymax:1.42, yw:65, yt:dTicksLower, yl:dLabelsLower, yfs:10.5,
  plugins:[legendPlugin(68.3,15,29.3,21.7,10.5,11.5), breakPlugin,
    textPlugin([{parts:[{t:'Relative Expression'}], x:43, y:159, size:12.7, rot:-Math.PI/2}])]});
// D upper
barPanel(mk(0,360,310,271), {names:dSeries, veh:dVeh, vehErr:dVehErr, cnf:dCnf, cnfErr:dCnfErr, cats:dGenes,
  pad:{left:0,top:66.7,right:15,bottom:114.3}, catPct:0.736, xmin:-0.632, xmax:2.55, showX:false,
  ymin:3.49, ymax:6.37, yw:65, yt:dTicksUpper, yl:dLabelsUpper, yfs:10.5,
  plugins:[sigPlugin(dSig, dSigLevel, -9, 13, 13)]});
// E
barPanel(mk(310,360,210,271), {names:eSeries, veh:eVeh, vehErr:eVehErr, cnf:eCnf, cnfErr:eCnfErr, cats:eGenes,
  pad:{left:0,top:72.7,right:31.7,bottom:0}, catPct:0.656, xmin:-0.484, xmax:0.516, showX:true, xh:21.7, xfs:11, xpad:8,
  ymin:0, ymax:1.5, yw:64, yt:efTicks, yl:efLabels, yfs:10,
  plugins:[sigPlugin(eSig, eSigLevel, -13.3, 13.4, 12), legendPlugin(66,18.3,30.7,19,8.5,9.5),
    textPlugin([{parts:[{t:'Relative Expression'}], x:33, y:161, size:14, rot:-Math.PI/2}])]});
// F
barPanel(mk(520,360,260,271), {names:fSeries, veh:fVeh, vehErr:fVehErr, cnf:fCnf, cnfErr:fCnfErr, cats:fGenes,
  pad:{left:0,top:79,right:75,bottom:0}, catPct:0.702, xmin:-0.536, xmax:0.464, showX:true, xh:21, xfs:12, xpad:7,
  ymin:0, ymax:1.5, yw:77.3, yt:efTicks, yl:efLabels, yfs:12,
  plugins:[sigPlugin(fSig, fSigLevel, -19, 16.7, 13), legendPlugin(81.7,18.3,31.7,24.3,8.5,11.5)]});
</script></body></html>
